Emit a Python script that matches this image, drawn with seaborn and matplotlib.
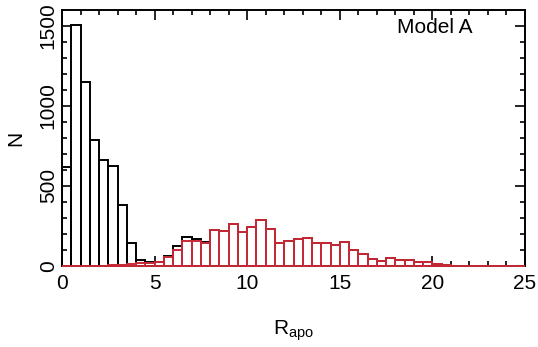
import numpy as np
import pandas as pd
import matplotlib
matplotlib.use("Agg")
import matplotlib.pyplot as plt
import seaborn as sns
from matplotlib.ticker import MultipleLocator

# Bin edges (width 0.5 in R_apo)
bin_width = 0.5
bin_range = (0, 25)
bin_centers = np.arange(0.25, 25, 0.5)

# Black histogram (all orbits)
counts_all = [615, 1505, 1150, 786, 661, 625, 378, 145, 36, 26,
              25, 60, 123, 181, 171, 150, 223, 219, 265, 213,
              244, 288, 229, 146, 156, 171, 177, 144, 144, 129,
              148, 98, 75, 42, 31, 50, 40, 36, 27, 23,
              10, 5, 3, 2, 1, 0, 1, 0, 0, 0]

# Red histogram (subset)
counts_red = [0, 0, 0, 0, 2, 5, 8, 12, 19, 19,
              22, 55, 102, 159, 159, 144, 223, 219, 265, 213,
              244, 288, 229, 146, 156, 171, 177, 144, 144, 129,
              148, 98, 75, 42, 31, 50, 40, 36, 27, 23,
              10, 5, 3, 2, 1, 0, 1, 0, 0, 0]

x_label = "R$_{\\mathregular{apo}}$"
y_label = "N"
panel_title = "Model A"
x_ticks = [0, 5, 10, 15, 20, 25]
y_ticks = [0, 500, 1000, 1500]

df_all = pd.DataFrame({"R": bin_centers, "N": counts_all})
df_red = pd.DataFrame({"R": bin_centers, "N": counts_red})

sns.set_theme(style="ticks")
plt.rcParams["font.family"] = ["Liberation Sans", "DejaVu Sans"]
plt.rcParams["text.color"] = "black"
plt.rcParams["axes.labelcolor"] = "black"

fig = plt.figure(figsize=(5.38, 3.47), dpi=100)
ax = fig.add_axes([62 / 538, 1 - 266 / 347, 463 / 538, 256 / 347])

sns.histplot(data=df_all, x="R", weights="N", binwidth=bin_width, binrange=bin_range,
             fill=False, element="bars", color="black", linewidth=1.4, ax=ax)
n_black = len(ax.patches)
sns.histplot(data=df_red, x="R", weights="N", binwidth=bin_width, binrange=bin_range,
             fill=False, element="bars", color="#c62a36", linewidth=1.4, ax=ax)
for p in ax.patches[n_black:]:
    p.set_zorder(3)
    p.set_clip_on(False)

ax.set_xlim(0, 25)
ax.set_ylim(0, 1598)
ax.set_xticks(x_ticks)
ax.set_yticks(y_ticks)
ax.xaxis.set_minor_locator(MultipleLocator(1))
ax.yaxis.set_minor_locator(MultipleLocator(100))
ax.tick_params(which="both", direction="in", top=True, right=True,
               width=1.2, colors="black", labelcolor="black", labelsize=15)
ax.tick_params(which="major", length=7.5)
ax.tick_params(which="minor", length=3.8)
ax.tick_params(axis="x", pad=6)
ax.tick_params(axis="y", pad=3)
for lbl in ax.get_yticklabels():
    lbl.set_rotation(90)
    lbl.set_va("center")
for s in ax.spines.values():
    s.set_linewidth(1.4)
    s.set_color("black")

ax.set_xlabel(x_label, fontsize=15, labelpad=18, color="black")
ax.set_ylabel(y_label, fontsize=15, labelpad=10, color="black")
ax.text(0.806, 0.93, panel_title, transform=ax.transAxes, ha="center", va="center",
        fontsize=15, color="black")

fig.savefig("out.png", dpi=100)
